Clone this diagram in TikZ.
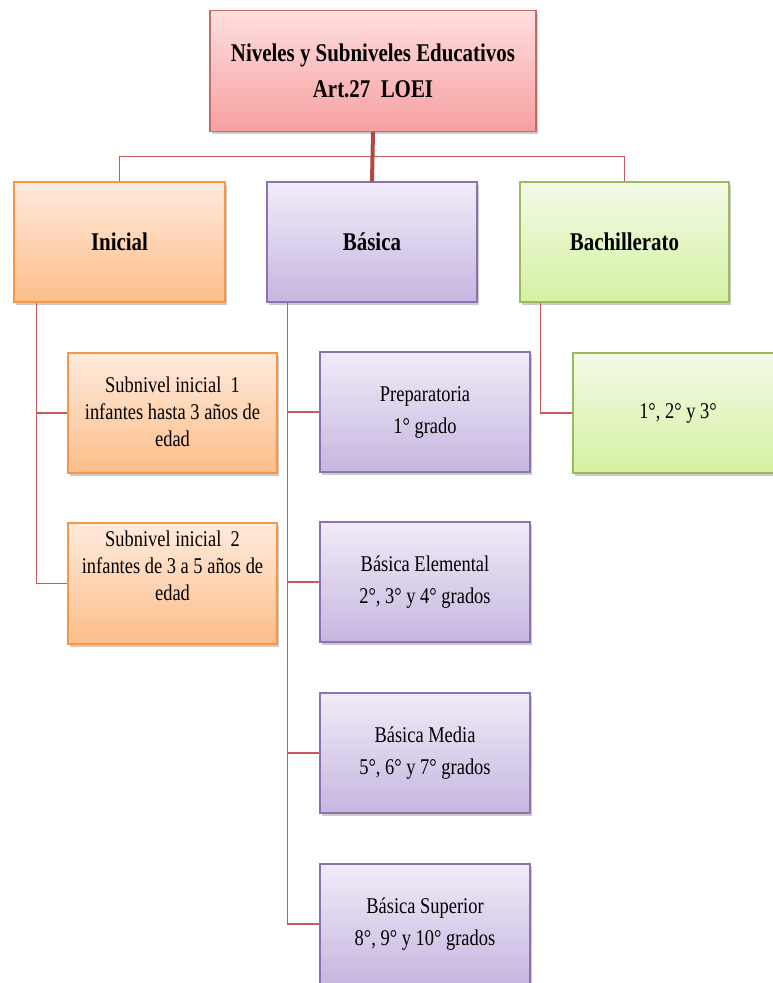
\documentclass[tikz,border=0pt]{standalone}
\usepackage{fontspec}
\setmainfont{Liberation Serif}[FakeStretch=0.82]
\usetikzlibrary{shadows}
\definecolor{redtop}{HTML}{FFDEDE}
\definecolor{redbot}{HTML}{F6A0A0}
\definecolor{redline}{HTML}{C0504D}
\definecolor{ortop}{HTML}{FFEBDD}
\definecolor{orbot}{HTML}{FDBD88}
\definecolor{orline}{HTML}{F79646}
\definecolor{putop}{HTML}{F0ECF8}
\definecolor{pubot}{HTML}{C6B6E0}
\definecolor{puline}{HTML}{8C72B2}
\definecolor{grtop}{HTML}{F3FAE7}
\definecolor{grbot}{HTML}{D5F1A2}
\definecolor{grline}{HTML}{9BBB59}
\definecolor{conn}{HTML}{C85A5C}
\begin{document}
\begin{tikzpicture}[x=1pt,y=-1pt,
  box/.style={draw, line width=1.2pt, minimum width=210pt, minimum height=120pt,
    inner sep=0pt, align=center,
    drop shadow={shadow xshift=2pt, shadow yshift=-2.5pt, fill=black!45, opacity=0.45}},
  redbox/.style={box, draw=redline!85, top color=redtop, bottom color=redbot},
  orbox/.style={box, draw=orline, top color=ortop, bottom color=orbot},
  pubox/.style={box, draw=puline, top color=putop, bottom color=pubot},
  grbox/.style={box, draw=grline, top color=grtop, bottom color=grbot},
  boldlab/.style={font=\fontsize{25.5}{36}\selectfont\bfseries},
  sublab/.style={font=\fontsize{22.5}{27}\selectfont, align=center, inner sep=0pt},
  pulab/.style={font=\fontsize{22.5}{32}\selectfont},
  link/.style={draw=conn, line width=1.4pt},
]
\fill[white] (0,0) rectangle (773,983);
\useasboundingbox (0,0) rectangle (773,983);

% level boxes
\node[redbox, minimum width=326pt, minimum height=121pt, boldlab] (top) at (373,71)
  {Niveles y Subniveles Educativos\\Art.27\ \ LOEI};
\node[orbox, minimum width=211pt, boldlab] (ini) at (119.5,242) {Inicial};
\node[pubox, boldlab] (bas) at (372,242) {Básica};
\node[grbox, minimum width=209pt, boldlab] (bach) at (624.5,242) {Bachillerato};

% inicial sub boxes
\node[orbox, minimum width=209pt] (s1) at (172.5,413) {};
\node[sublab] (s1t) at (172.5,412) {Subnivel inicial\ \ 1\\infantes hasta 3 años de\\edad};
\node[orbox, minimum width=209pt, minimum height=121pt] (s2) at (172.5,583.5) {};
\node[sublab] (s2t) at (172.5,566) {Subnivel inicial\ \ 2\\infantes de 3 a 5 años de\\edad};

% basica sub boxes
\node[pubox, pulab] (p1) at (425,412) {Preparatoria\\1° grado};
\node[pubox, pulab] (p2) at (425,582) {Básica Elemental\\2°, 3° y 4° grados};
\node[pubox, pulab] (p3) at (425,753) {Básica Media\\5°, 6° y 7° grados};
\node[pubox, pulab] (p4) at (425,924) {Básica Superior\\8°, 9° y 10° grados};

% bachillerato sub box
\node[grbox, pulab] (g1) at (678,413) {1°, 2° y 3°};

% connectors
\draw[link] (ini.north) -- ++(0,-25) -| (bach.north);
\draw[draw=redline!90!black, line width=4pt] (top.south) -- (bas.north);

\draw[link] ([xshift=23pt]ini.south west) |- (s1.west);
\draw[link] ([xshift=23pt]ini.south west) |- (s2.west);

\draw[link] ([xshift=21pt]bas.south west) |- (p1.west);
\draw[link] ([xshift=21pt]bas.south west) |- (p2.west);
\draw[link] ([xshift=21pt]bas.south west) |- (p3.west);
\draw[link] ([xshift=21pt]bas.south west) |- (p4.west);

\draw[link] ([xshift=21pt]bach.south west) |- (g1.west);
\end{tikzpicture}
\end{document}
